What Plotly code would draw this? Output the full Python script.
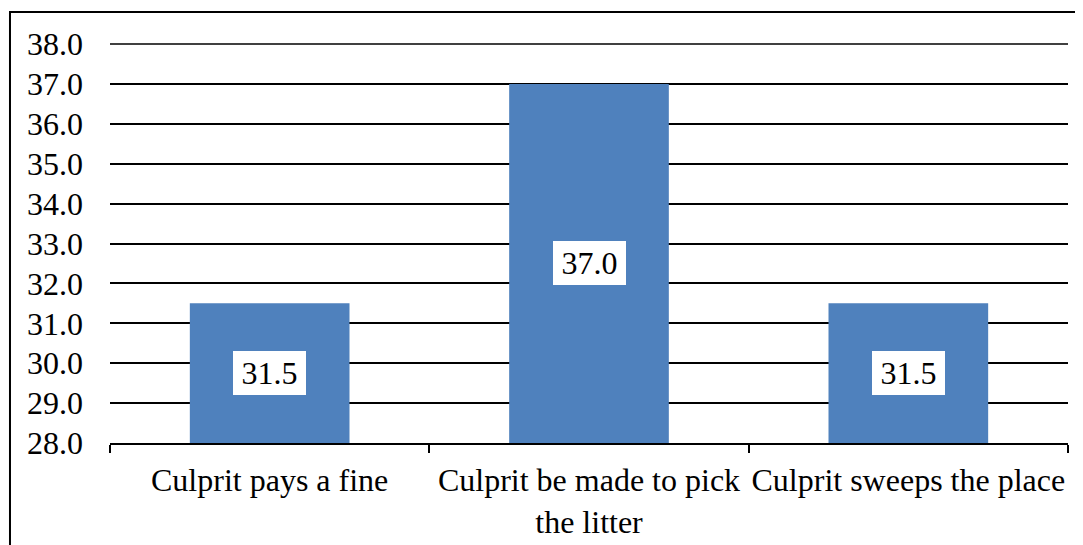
import plotly.graph_objects as go

categories = ["Culprit pays a fine", "Culprit be made to pick<br>the litter", "Culprit sweeps the place"]
values = [31.5, 37.0, 31.5]
y_min, y_max = 28.0, 38.0
y_ticks = [28, 29, 30, 31, 32, 33, 34, 35, 36, 37, 38]

FONT = "Liberation Serif"
FS = 32

fig = go.Figure()
fig.add_trace(go.Bar(
    x=categories, y=[v - y_min for v in values], base=y_min,
    marker=dict(color="#4F81BD", line=dict(width=0)),
    width=0.5, hoverinfo="skip",
))

for c, v in zip(categories, values):
    fig.add_annotation(
        x=c, y=(y_min + v) / 2, text=f"{v:.1f}", showarrow=False,
        bgcolor="white", borderpad=0, borderwidth=1, bordercolor="white",
        width=71, height=42,
        font=dict(family=FONT, size=FS, color="black"),
    )

# top gridline at the range edge (paper-referenced so it is not clipped)
fig.add_shape(type="line", xref="paper", yref="paper", x0=0, x1=1, y0=1, y1=1,
              line=dict(color="black", width=1.5), layer="below")

# outer frame
fig.add_shape(type="rect", xref="paper", yref="paper",
              x0=-0.1044, x1=1.0136, y0=-0.4, y1=1.080,
              line=dict(color="black", width=2), layer="below")

fig.update_layout(
    width=1075, height=537,
    margin=dict(l=102, r=15, t=36, b=102, autoexpand=False),
    paper_bgcolor="white", plot_bgcolor="white",
    showlegend=False, bargap=0.5,
    font=dict(family=FONT, size=FS, color="black"),
)
fig.update_xaxes(
    automargin=False, tickangle=0,
    showgrid=False, showline=True, linecolor="black", linewidth=2,
    ticks="outside", tickson="boundaries", ticklen=8, tickwidth=2, tickcolor="black",
    ticklabelstandoff=8,
    tickfont=dict(family=FONT, size=FS, color="black"),
)
fig.update_yaxes(
    automargin=False,
    range=[y_min, y_max], tickvals=y_ticks,
    ticktext=[f"{t:.1f}" for t in y_ticks],
    showgrid=True, gridcolor="black", gridwidth=1.5,
    zeroline=False, showline=False, ticks="",
    ticklabelstandoff=26,
    tickfont=dict(family=FONT, size=FS, color="black"),
)

fig.write_html("out.html")
